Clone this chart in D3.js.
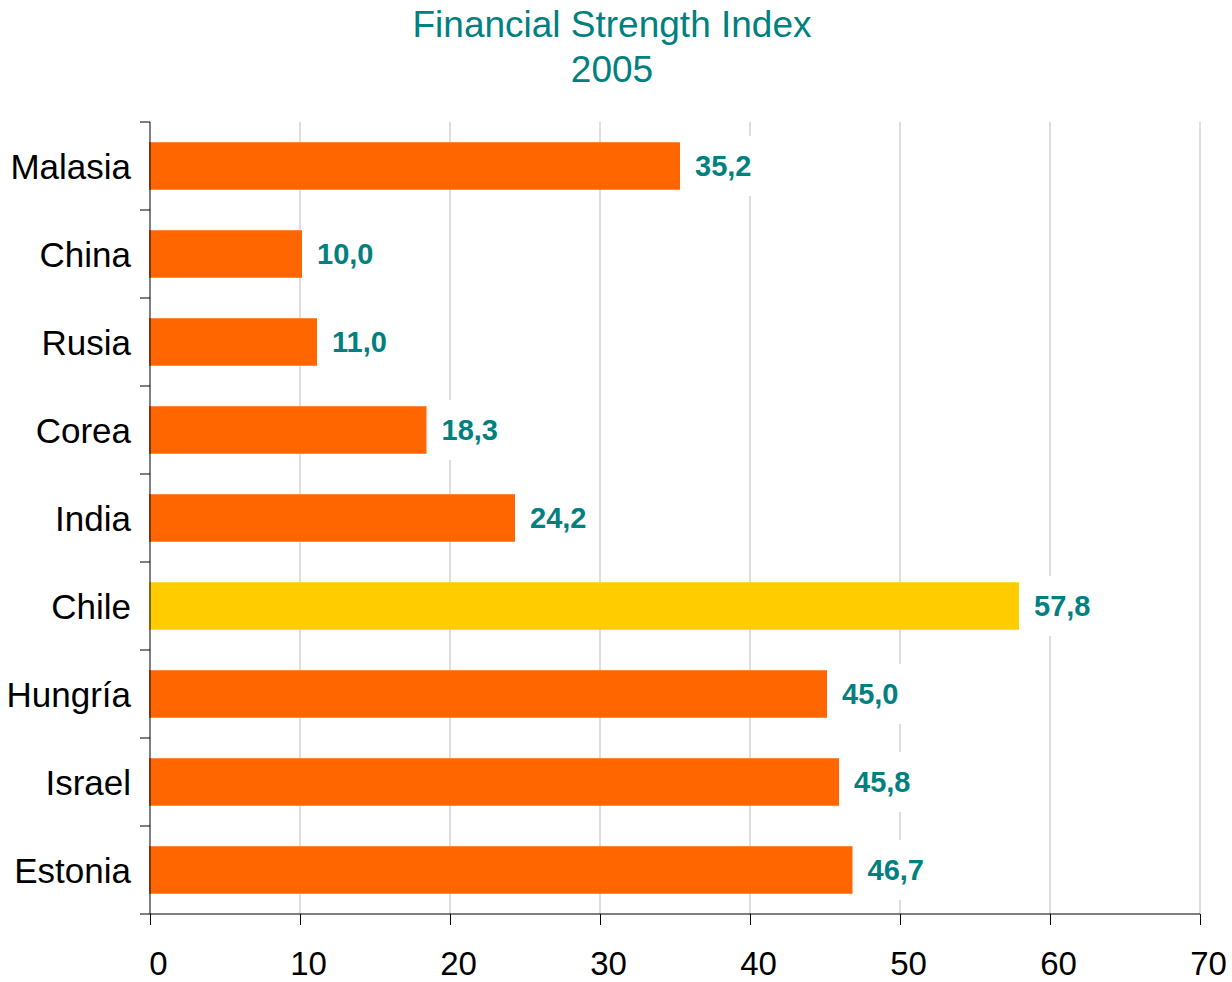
<!DOCTYPE html>
<html>
<head>
<meta charset="utf-8">
<script src="https://cdn.jsdelivr.net/npm/d3@7"></script>
<style>
  body { margin: 0; background: #fff; }
  svg { display: block; font-family: "Liberation Sans", Arial, sans-serif; }
</style>
</head>
<body>
<div id="chart"></div>
<script>
// Financial Strength Index 2005 - horizontal bars
const countries = ['Malasia', 'China', 'Rusia', 'Corea', 'India', 'Chile', 'Hungría', 'Israel', 'Estonia'];
const values = [35.2, 10.0, 11.0, 18.3, 24.2, 57.8, 45.0, 45.8, 46.7];
const highlight = ['Chile'];
const xTicks = [0, 10, 20, 30, 40, 50, 60, 70];
const titleLines = ['Financial Strength Index', '2005'];

const W = 1232, H = 982;
const margin = { top: 122, right: 32, bottom: 68, left: 150 };
const teal = '#008080';

const svg = d3.select('#chart').append('svg')
  .attr('width', W).attr('height', H);

const x = d3.scaleLinear().domain([0, 70]).range([margin.left, W - margin.right]);
const y = d3.scaleBand().domain(countries).range([margin.top, H - margin.bottom]).paddingInner(0.46).paddingOuter(0.23);
const yEdge = d3.scaleLinear().domain([0, countries.length]).range([margin.top, H - margin.bottom]);

// Title
svg.append('g').selectAll('text').data(titleLines).join('text')
  .attr('x', 612).attr('y', (d, i) => 37 + i * 45)
  .attr('text-anchor', 'middle')
  .attr('fill', teal).attr('font-size', 37)
  .text(d => d);

// Vertical gridlines
svg.append('g').selectAll('line').data(xTicks.slice(1)).join('line')
  .attr('x1', d => x(d)).attr('x2', d => x(d))
  .attr('y1', margin.top).attr('y2', H - margin.bottom)
  .attr('stroke', '#bdbdbd').attr('stroke-width', 1);

// Bars
svg.append('g').selectAll('rect').data(countries).join('rect')
  .attr('x', x(0) - 1)
  .attr('y', d => y(d))
  .attr('width', (d, i) => x(values[i]) - x(0) + 3)
  .attr('height', y.bandwidth())
  .attr('fill', d => highlight.includes(d) ? '#FFCC00' : '#FF6600');

// Value labels with white background
const lab = svg.append('g').selectAll('g').data(countries).join('g')
  .attr('transform', (d, i) => `translate(${x(values[i]) + 17},${y(d) + y.bandwidth() / 2})`);
lab.append('rect')
  .attr('x', -8).attr('y', -30).attr('width', 72).attr('height', 60)
  .attr('fill', '#fff');
lab.append('text')
  .attr('dy', '0.36em')
  .attr('fill', teal).attr('font-size', 29).attr('font-weight', 'bold')
  .text((d, i) => d3.format('.1f')(values[i]).replace('.', ','));

// X axis
const xAxis = svg.append('g')
  .attr('transform', `translate(0,${H - margin.bottom})`)
  .call(d3.axisBottom(x).tickValues(xTicks).tickSize(11).tickPadding(27).tickSizeOuter(0));
xAxis.select('.domain').attr('stroke', '#000').attr('d', `M${x(0) - 10},0H${x(70)}`);
xAxis.selectAll('.tick line').attr('stroke', '#000');
xAxis.selectAll('.tick text')
  .attr('font-size', 33).attr('fill', '#000').attr('dx', 8)
  .attr('font-family', '"Liberation Sans", Arial, sans-serif');

// Y axis line and boundary ticks
const yAx = svg.append('g');
yAx.append('line')
  .attr('x1', x(0)).attr('x2', x(0))
  .attr('y1', margin.top).attr('y2', H - margin.bottom)
  .attr('stroke', '#000');
yAx.selectAll('line.edge').data(d3.range(countries.length)).join('line')
  .attr('class', 'edge')
  .attr('x1', x(0) - 10).attr('x2', x(0))
  .attr('y1', d => yEdge(d)).attr('y2', d => yEdge(d))
  .attr('stroke', '#000');

// Category labels
svg.append('g').selectAll('text').data(countries).join('text')
  .attr('x', 131)
  .attr('y', d => y(d) + y.bandwidth() / 2)
  .attr('dy', '0.36em')
  .attr('text-anchor', 'end')
  .attr('font-size', 35).attr('fill', '#000')
  .text(d => d);
</script>
</body>
</html>
